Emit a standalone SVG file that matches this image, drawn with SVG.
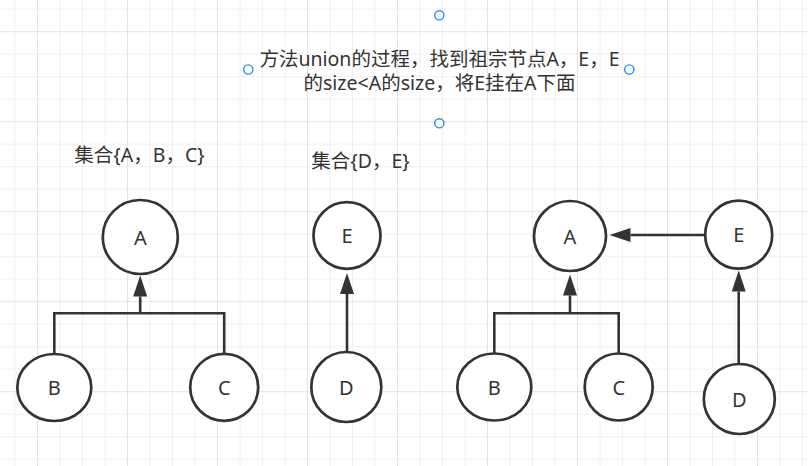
<svg xmlns="http://www.w3.org/2000/svg" width="808" height="466" viewBox="0 0 808 466">
  <defs>
    <pattern id="grid" patternUnits="userSpaceOnUse" x="37" y="31.2" width="90" height="90">
      <path d="M23,0V90M45.5,0V90M68,0V90M0,23H90M0,45.5H90M0,68H90" stroke="#f0f0f0" stroke-width="1" fill="none"/>
      <path d="M0.5,0V90M0,0.5H90" stroke="#e3e3e3" stroke-width="1" fill="none"/>
    </pattern>
    <marker id="arrow" markerUnits="userSpaceOnUse" markerWidth="22" markerHeight="15" refX="0" refY="7" orient="auto" overflow="visible">
      <path d="M0,0 L21,7 L0,14 Z" fill="#333333"/>
    </marker>
    <style>
      .node ellipse { fill: #ffffff; stroke: #333333; stroke-width: 2.7; }
      .node text { font-family: "Noto Sans", "Noto Sans CJK SC", sans-serif; font-size: 20px; fill: #333333; text-anchor: middle; }
      .edge { fill: none; stroke: #333333; stroke-width: 2.6; }
      .label { font-family: "Noto Sans", "Noto Sans CJK SC", sans-serif; font-size: 19.5px; fill: #333333; text-anchor: middle; }
      .handle { fill: #ffffff; stroke: #2a8af6; stroke-width: 1.4; }
    </style>
  </defs>
  <rect width="808" height="466" fill="#ffffff"/>
  <rect width="808" height="466" fill="url(#grid)"/>

  <g id="connectors">
    <path class="edge" d="M54.3,353.5 V313.3 H224.2 V353.5"/>
    <path class="edge" d="M140.2,313.3 V296.5" marker-end="url(#arrow)"/>
    <path class="edge" d="M347,351.5 V294" marker-end="url(#arrow)"/>
    <path class="edge" d="M494.3,353.5 V313.3 H618.7 V353.5"/>
    <path class="edge" d="M570,313.3 V295.5" marker-end="url(#arrow)"/>
    <path class="edge" d="M704,235 H630.5" marker-end="url(#arrow)"/>
    <path class="edge" d="M738.7,363.5 V291.5" marker-end="url(#arrow)"/>
  </g>

  <g id="left-A" class="node"><ellipse cx="140.3" cy="237" rx="37.5" ry="37"/><text x="140.3" y="244.5">A</text></g>
  <g id="left-B" class="node"><ellipse cx="54.3" cy="387.5" rx="37" ry="33.5"/><text x="54.3" y="395">B</text></g>
  <g id="left-C" class="node"><ellipse cx="224.2" cy="387.3" rx="34" ry="33.5"/><text x="224.2" y="395">C</text></g>
  <g id="left-E" class="node"><ellipse cx="347" cy="235.5" rx="33.5" ry="33.3"/><text x="347" y="243">E</text></g>
  <g id="left-D" class="node"><ellipse cx="346.3" cy="387" rx="35" ry="35"/><text x="346.3" y="394.5">D</text></g>

  <g id="right-A" class="node"><ellipse cx="570" cy="236" rx="36" ry="35"/><text x="570" y="243.5">A</text></g>
  <g id="right-E" class="node"><ellipse cx="738.7" cy="234.7" rx="33.5" ry="34"/><text x="738.7" y="242">E</text></g>
  <g id="right-B" class="node"><ellipse cx="494.3" cy="387" rx="37" ry="33.5"/><text x="494.3" y="394.5">B</text></g>
  <g id="right-C" class="node"><ellipse cx="618.7" cy="387" rx="34" ry="33.5"/><text x="618.7" y="394.5">C</text></g>
  <g id="right-D" class="node"><ellipse cx="739.3" cy="399" rx="35.5" ry="35"/><text x="739.3" y="406.5">D</text></g>

  <g id="label-set1"><text class="label" x="139.5" y="162">集合{A，B，C}</text></g>
  <g id="label-set2"><text class="label" x="360.5" y="168">集合{D，E}</text></g>

  <g id="title">
    <text class="label" x="439.5" y="65.5">方法union的过程，找到祖宗节点A，E，E</text>
    <text class="label" x="439.5" y="90">的size&lt;A的size，将E挂在A下面</text>
    <circle class="handle" cx="439.3" cy="15.3" r="4.6"/>
    <circle class="handle" cx="248.3" cy="69.5" r="4.6"/>
    <circle class="handle" cx="629.3" cy="69.5" r="4.6"/>
    <circle class="handle" cx="439.3" cy="123.3" r="4.6"/>
  </g>
</svg>
